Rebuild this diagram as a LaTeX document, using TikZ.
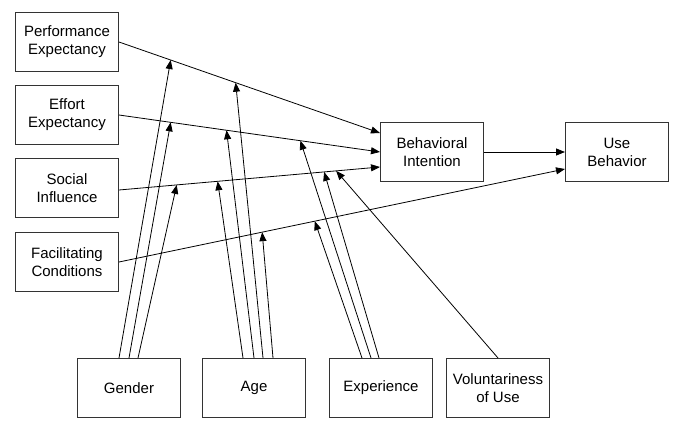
\documentclass[tikz,border=0pt]{standalone}
\usepackage{fontspec}
\setmainfont{Liberation Sans}
\usetikzlibrary{arrows.meta,calc}

\begin{document}
\begin{tikzpicture}[x=1pt,y=-1pt,
        box/.style={draw=black!80,line width=1pt,minimum width=103pt,minimum height=59pt,align=center,font=\fontsize{15}{18}\selectfont,inner sep=0pt},
        arr/.style={-{Triangle[length=9pt,width=7pt]},line width=0.8pt}]
        \useasboundingbox(0,0)rectangle(683,447);
        % constructs
        \node[box](PE)at(67,42){Performance\\Expectancy};
        \node[box](EE)at(67,115){Effort\\Expectancy};
        \node[box](SI)at(67,188){Social\\Influence};
        \node[box](FC)at(67,262){Facilitating\\Conditions};
        \node[box](BI)at(432,152){Behavioral\\Intention};
        \node[box](UB)at(617,152){Use\\Behavior};
        % moderators
        \node[box](G)at(129,388){Gender};
        \node[box](A)at(254,388){Age};
        \node[box](E)at(381,388){Experience};
        \node[box](V)at(498,388){Voluntariness\\of Use};
        \coordinate(bi1)at([yshift=19pt]BI.west);
        \coordinate(bi3)at([yshift=-15pt]BI.west);
        \coordinate(ub2)at([yshift=-17pt]UB.west);
        \draw[arr](PE.east)--(bi1);
        \draw[arr](EE.east)--(BI.west);
        \draw[arr]([yshift=-2pt]SI.east)--(bi3);
        \draw[arr](FC.east)--(ub2);
        \draw[arr](BI.east)--(UB.west);
        % points on the paths
        \coordinate(pg)at($(PE.east)!0.198!(bi1)$);
        \coordinate(pa)at($(PE.east)!0.447!(bi1)$);
        \coordinate(eg)at($(EE.east)!0.198!(BI.west)$);
        \coordinate(ea)at($(EE.east)!0.412!(BI.west)$);
        \coordinate(ee)at($(EE.east)!0.695!(BI.west)$);
        \coordinate(sg)at($([yshift=-2pt]SI.east)!0.221!(bi3)$);
        \coordinate(sa)at($([yshift=-2pt]SI.east)!0.378!(bi3)$);
        \coordinate(se)at($([yshift=-2pt]SI.east)!0.786!(bi3)$);
        \coordinate(sv)at($([yshift=-2pt]SI.east)!0.832!(bi3)$);
        \coordinate(fa)at($(FC.east)!0.321!(ub2)$);
        \coordinate(fe)at($(FC.east)!0.439!(ub2)$);
        \draw[arr]([xshift=-10pt]G.north)--(pg);
        \draw[arr](G.north)--(eg);
        \draw[arr]([xshift=9pt]G.north)--(sg);
        \draw[arr]([xshift=-11pt]A.north)--(sa);
        \draw[arr](A.north)--(ea);
        \draw[arr]([xshift=9pt]A.north)--(pa);
        \draw[arr]([xshift=19pt]A.north)--(fa);
        \draw[arr]([xshift=-19pt]E.north)--(fe);
        \draw[arr]([xshift=-10pt]E.north)--(ee);
        \draw[arr]([xshift=-2pt]E.north)--(se);
        \draw[arr](V.north)--(sv);
    \end{tikzpicture}
\end{document}
